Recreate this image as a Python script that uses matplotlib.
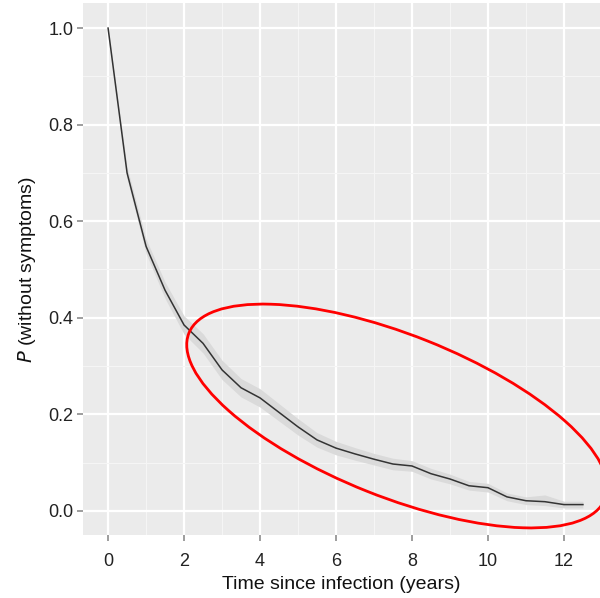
import matplotlib
matplotlib.use("Agg")
import matplotlib.pyplot as plt
from matplotlib.patches import Ellipse
from matplotlib.ticker import MultipleLocator

# survival estimate (years since infection -> P without symptoms)
years = [0, 0.5, 1, 1.5, 2, 2.5, 3, 3.5, 4, 4.5, 5, 5.5, 6, 6.5, 7, 7.5, 8,
         8.5, 9, 9.5, 10, 10.5, 11, 11.5, 12, 12.5]
p_free = [1.0, 0.70, 0.548, 0.457, 0.385, 0.347, 0.292, 0.255, 0.234, 0.204,
          0.174, 0.147, 0.130, 0.118, 0.107, 0.097, 0.093, 0.077, 0.066,
          0.052, 0.048, 0.029, 0.021, 0.019, 0.013, 0.013]
ci_lo = [1.0, 0.688, 0.533, 0.440, 0.366, 0.327, 0.272, 0.236, 0.215, 0.186,
         0.157, 0.132, 0.116, 0.105, 0.095, 0.085, 0.082, 0.066, 0.056,
         0.043, 0.039, 0.021, 0.013, 0.011, 0.006, 0.006]
ci_hi = [1.0, 0.712, 0.563, 0.474, 0.404, 0.367, 0.312, 0.274, 0.253, 0.222,
         0.191, 0.162, 0.144, 0.131, 0.119, 0.109, 0.104, 0.088, 0.076,
         0.061, 0.057, 0.037, 0.029, 0.033, 0.020, 0.020]
y_ticks = [0, 0.2, 0.4, 0.6, 0.8, 1.0]
y_labels = ["0.0", "0.2", "0.4", "0.6", "0.8", "1.0"]

PANEL, BAND, LINE = "#ebebeb", "#dadada", "#333333"

plt.rcParams["font.family"] = ["Liberation Sans", "DejaVu Sans"]

fig = plt.figure(figsize=(6.0, 5.98), dpi=100)
ax = fig.add_axes([83 / 600, 63 / 598, 517 / 600, 532 / 598])
ax.set_facecolor(PANEL)

ax.fill_between(years, ci_lo, ci_hi, color=BAND, lw=0, zorder=2)
ax.plot(years, p_free, color=LINE, lw=1.1, zorder=3)

ax.set_xlim(-0.66, 12.95)
ax.set_ylim(-0.05, 1.052)
ax.xaxis.set_major_locator(MultipleLocator(2))
ax.xaxis.set_minor_locator(MultipleLocator(1))
ax.set_yticks(y_ticks)
ax.set_yticklabels(y_labels)
ax.yaxis.set_minor_locator(MultipleLocator(0.1))

ax.grid(which="major", color="white", lw=1.6, zorder=1)
ax.grid(which="minor", color="#f5f5f5", lw=0.8, zorder=1)
ax.set_axisbelow(True)
for s in ax.spines.values():
    s.set_visible(False)
ax.tick_params(which="major", length=4, width=1.2, color="#8c8c8c",
               labelsize=13, labelcolor="#222222")
ax.tick_params(axis="x", pad=9)
ax.tick_params(axis="y", pad=3)
ax.tick_params(which="minor", length=0)

ax.set_xlabel("Time since infection (years)", fontsize=14, color="#111111", labelpad=4)
ax.set_ylabel("$P$ (without symptoms)", fontsize=14, color="#111111", labelpad=7)

# red highlight around the tail of the curve (figure pixels / 100)
fig.patches.append(Ellipse((3.97, 1.82), 4.48, 1.62, angle=-21.7,
                           transform=fig.dpi_scale_trans, fill=False,
                           edgecolor="#ff0000", lw=2.0, zorder=10))

fig.savefig("out.png", dpi=100, facecolor="white")
